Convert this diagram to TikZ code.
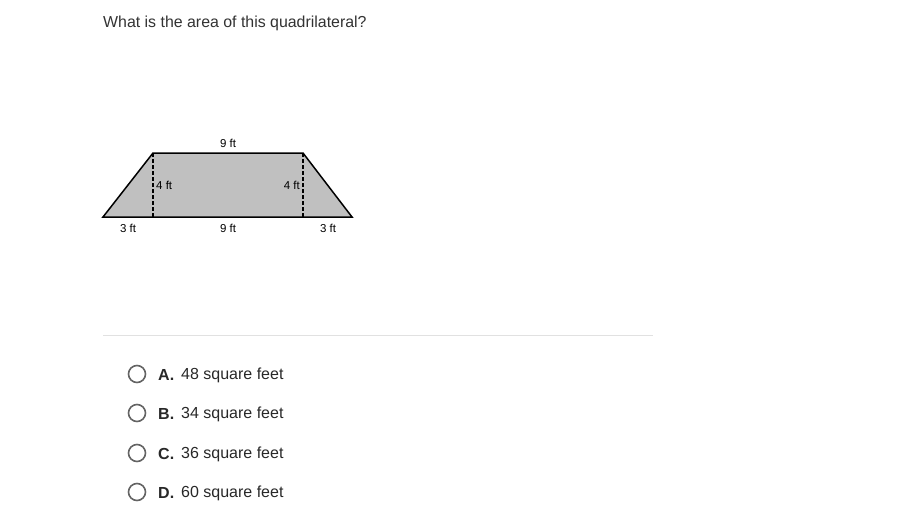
\documentclass[tikz,border=0pt]{standalone}
\usepackage{fontspec}
\setmainfont{Liberation Sans}
\definecolor{qgray}{RGB}{51,51,51}
\definecolor{ogray}{RGB}{40,40,40}
\definecolor{rgray}{RGB}{100,100,100}
\definecolor{sepgray}{RGB}{225,225,225}
\definecolor{shade}{RGB}{192,192,192}
\begin{document}
\begin{tikzpicture}[x=1pt,y=-1pt,
  lbl/.style={font=\fontsize{11.5}{13}\selectfont, inner sep=0pt, text=black},
  qtext/.style={font=\fontsize{15.9}{19}\selectfont, inner sep=0pt, text=qgray, anchor=west},
  opt/.style={font=\fontsize{16}{19}\selectfont, inner sep=0pt, text=ogray, anchor=west},
  radio/.style={circle, draw=rgray, line width=1.6pt, minimum size=17pt, inner sep=0pt}]
\useasboundingbox (0,0) rectangle (913,514);
\fill[white] (0,0) rectangle (913,514);
\node[qtext] (q) at (103,23) {What is the area of this quadrilateral?};
% trapezoid
\coordinate (bl) at (103,217);
\coordinate (tl) at (153,153);
\coordinate (tr) at (303,153);
\coordinate (br) at (352,217);
\coordinate (fl) at (153,217);
\coordinate (fr) at (303,217);
\filldraw[fill=shade, draw=black, line width=1.5pt, line join=miter] (bl) -- (tl) -- (tr) -- (br) -- cycle;
\draw[black, line width=1.6pt, dash pattern=on 3.5pt off 2.5pt] (tl) -- (fl);
\draw[black, line width=1.6pt, dash pattern=on 3.5pt off 2.5pt] (tr) -- (fr);
\node[lbl] (top) at (228,143) {9 ft};
\node[lbl, anchor=west] (hl) at (156,185) {4 ft};
\node[lbl, anchor=east] (hr) at (300,185) {4 ft};
\node[lbl] (b1) at (128,228) {3 ft};
\node[lbl] (b2) at (228,228) {9 ft};
\node[lbl] (b3) at (328,228) {3 ft};
% separator
\draw[sepgray, line width=0.8pt] (103,335) -- (653,335);
% options
\foreach \y/\l/\t [count=\i] in {374/A/48, 413/B/34, 453/C/36, 492/D/60}{
  \node[radio] (r\i) at (137,\y) {};
  \node[opt, font=\fontsize{16}{19}\selectfont\bfseries] (l\i) at (158,\y+1) {\l.};
  \node[opt] (t\i) at (181,\y+1) {\t\ square feet};
}
\end{tikzpicture}
\end{document}
